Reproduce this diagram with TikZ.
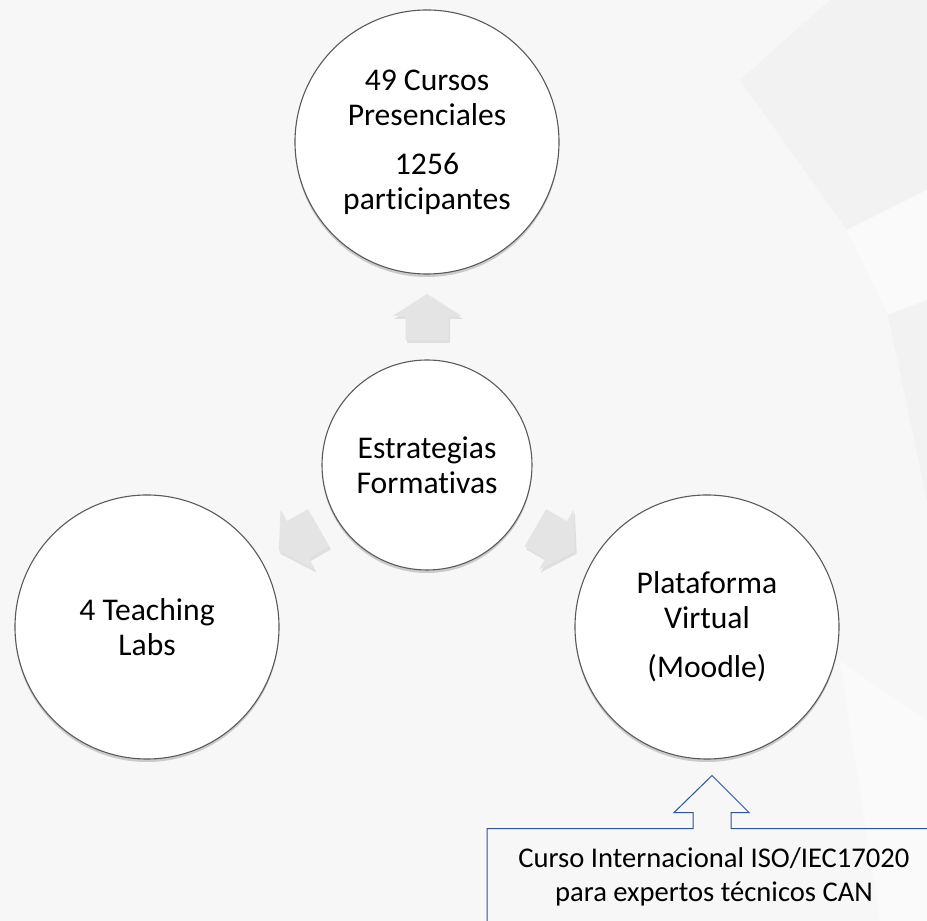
\documentclass[tikz,border=0pt]{standalone}
\usepackage{fontspec}
\setmainfont{Carlito}[Ligatures=NoCommon]
\usetikzlibrary{calc,shadows}
\definecolor{bg}{HTML}{F7F7F7}
\definecolor{bgdark}{HTML}{F2F2F3}
\definecolor{bglight}{HTML}{FAFAFA}
\definecolor{ring}{HTML}{5A5A5A}
\definecolor{arrowgray}{HTML}{E4E4E4}
\definecolor{callblue}{HTML}{2F5597}
\tikzset{
  bubble/.style={circle, draw=ring, line width=1.1pt, fill=white, inner sep=0pt,
    align=center, font=\fontsize{31.6}{35}\selectfont,
    drop shadow={shadow xshift=0pt, shadow yshift=-3pt, opacity=0.3, fill=black!60}},
  bigbubble/.style={bubble, minimum size=264pt},
  smallbubble/.style={bubble, minimum size=210pt},
  arrowbody/.style={fill=arrowgray,
    drop shadow={shadow xshift=1.5pt, shadow yshift=-3pt, opacity=0.2, fill=black!50}},
  calloutline/.style={draw=callblue, line width=1pt, line join=miter},
  calltext/.style={align=center, inner sep=0pt, font=\fontsize{28.6}{34}\selectfont}
}
% block arrow centred at coordinate #1 pointing at angle #2
\newcommand\blockarr[2]{%
  \path[arrowbody]
    ($(#1)+(#2:23pt)$)
    -- ($(#1)+(#2:1pt)+({#2+90}:34.5pt)$)
    -- ($(#1)+(#2:1pt)+({#2+90}:21.5pt)$)
    -- ($(#1)+(#2:-23pt)+({#2+90}:21.5pt)$)
    -- ($(#1)+(#2:-23pt)+({#2-90}:21.5pt)$)
    -- ($(#1)+(#2:1pt)+({#2-90}:21.5pt)$)
    -- ($(#1)+(#2:1pt)+({#2-90}:34.5pt)$)
    -- cycle;}
\begin{document}
\begin{tikzpicture}[x=1pt,y=1pt]
\fill[bg] (0,0) rectangle (927,921);
\useasboundingbox (0,0) rectangle (927,921);
\begin{scope}
\clip (0,0) rectangle (927,921);
% faint background facets
\fill[bgdark] (740,841) -- (830,921) -- (927,921) -- (927,731) -- (847,691) -- cycle;
\fill[bglight] (847,691) -- (927,731) -- (927,621) -- (888,606) -- cycle;
\fill[bgdark] (888,606) -- (927,621) -- (927,420) -- cycle;
\fill[bglight] (840,260) -- (927,200) -- (927,0) -- (880,0) -- cycle;

% circles
\node[bigbubble] (t) at (427,779) {49 Cursos\\Presenciales\\[14pt]1256\\participantes};
\node[smallbubble] (c) at (427,456) {Estrategias\\Formativas};
\node[bigbubble] (l) at (147,294) {4 Teaching\\Labs};
\node[bigbubble] (r) at (707,294) {Plataforma\\Virtual\\[14pt](Moodle)};

% grey block arrows between the centre and the outer circles
\coordinate (mu) at ($(t.south)!0.5!(c.north)$);
\coordinate (ml) at ($(c.210)!0.5!(l.30)$);
\coordinate (mr) at ($(c.-30)!0.5!(r.150)$);
\blockarr{mu}{90}
\blockarr{ml}{210}
\blockarr{mr}{-30}

% callout with up arrow
\node[calltext] (ct) at (714,44) {Curso Internacional ISO/IEC17020\\para expertos técnicos CAN};
\coordinate (tip) at ($(r.south)+(5,-16)$);
\draw[calloutline]
  ($(tip)+(-225,-170)$) -- ($(tip)+(-225,-53)$)
  -- ($(tip)+(-19,-53)$) -- ($(tip)+(-19,-37)$) -- ($(tip)+(-38,-37)$)
  -- (tip)
  -- ($(tip)+(37,-37)$) -- ($(tip)+(19,-37)$) -- ($(tip)+(19,-53)$)
  -- ($(tip)+(240,-53)$);
\end{scope}
\end{tikzpicture}
\end{document}
